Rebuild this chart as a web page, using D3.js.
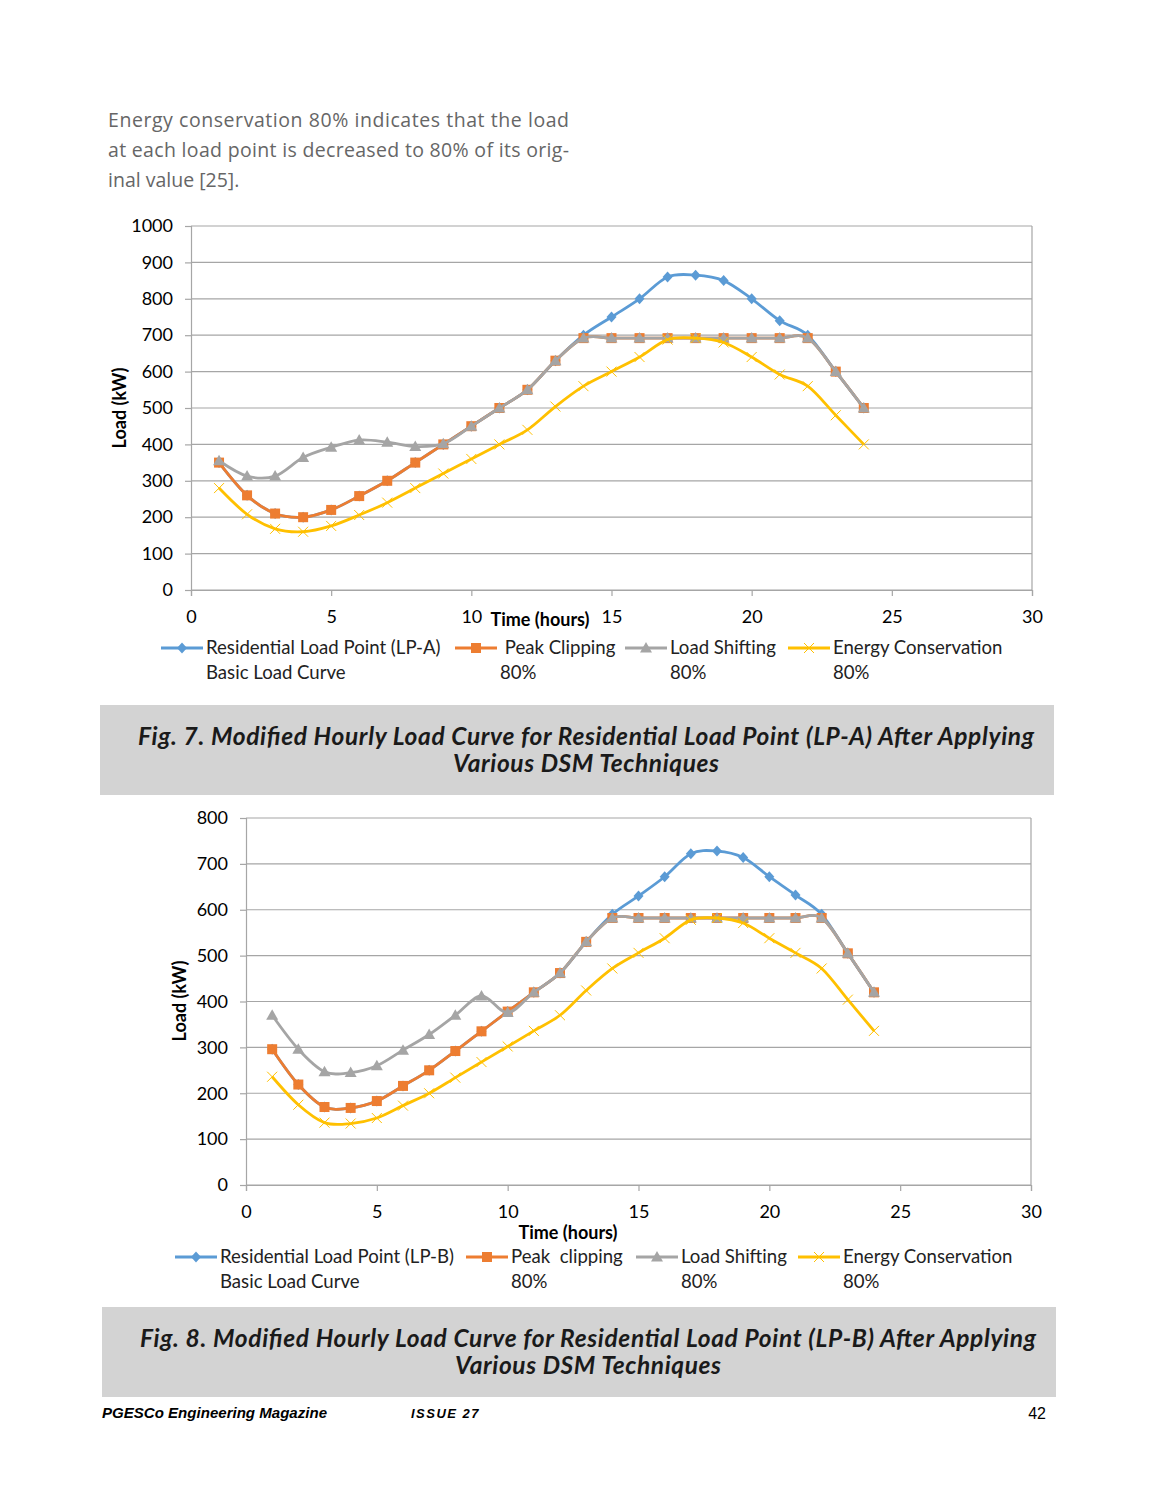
<!DOCTYPE html>
<html><head><meta charset="utf-8">
<script src="https://cdn.jsdelivr.net/npm/d3@7/dist/d3.min.js"></script>
<style>body{margin:0;background:#fff} svg{display:block}</style>
</head><body><svg id="page" width="1159" height="1500"></svg>
<script>
// ---------- data ----------
const hours = [1,2,3,4,5,6,7,8,9,10,11,12,13,14,15,16,17,18,19,20,21,22,23,24];
const xTicks = [0,5,10,15,20,25,30];

const yTicksA = [0,100,200,300,400,500,600,700,800,900,1000];
const lpaBasic  = [350,260,210,200,220,258,300,350,400,450,500,550,630,700,750,800,860,865,850,800,740,700,600,500];
const lpaPeak   = [350,260,210,200,220,258,300,350,400,450,500,550,630,692,692,692,692,692,692,692,692,692,600,500];
const lpaShift  = [355,313,313,364,392,412,406,394,402,450,500,550,630,692,692,692,692,692,692,692,692,692,600,500];
const lpaEnergy = [280,208,168,160,176,206,240,280,320,360,400,440,504,560,600,640,688,692,680,640,592,560,480,400];

const yTicksB = [0,100,200,300,400,500,600,700,800];
const lpbBasic  = [296,219,170,168,183,216,250,292,335,378,420,462,530,590,630,672,722,728,714,672,632,590,505,420];
const lpbPeak   = [296,219,170,168,183,216,250,292,335,378,420,462,530,582,582,582,582,582,582,582,582,582,505,420];
const lpbShift  = [370,296,247,245,260,294,328,370,412,376,420,462,530,582,582,582,582,582,582,582,582,582,505,420];
const lpbEnergy = [236,175,136,134,146,173,200,234,268,302,336,370,424,472,506,538,578,582,571,538,506,472,404,336];

const legendA = [["Residential Load Point (LP-A)","Basic Load Curve"],[" Peak Clipping","80%"],["Load Shifting","80%"],["Energy Conservation","80%"]];
const legendB = [["Residential Load Point (LP-B)","Basic Load Curve"],["Peak  clipping","80%"],["Load Shifting","80%"],["Energy Conservation","80%"]];

const paragraph = ["Energy conservation 80% indicates that the load","at each load point is decreased to 80% of its orig-","inal value [25]."];
const captionA = ["Fig. 7. Modified Hourly Load Curve for Residential Load Point (LP-A) After Applying","Various DSM Techniques"];
const captionB = ["Fig. 8. Modified Hourly Load Curve for Residential Load Point (LP-B) After Applying","Various DSM Techniques"];

// ---------- styles ----------
const colors = ["#5B9BD5","#ED7D31","#A5A5A5","#FFC000"];
const markers = ["diamond","square","triangle","x"];
const chartFont = "Lato, 'Open Sans', sans-serif";

const svg = d3.select("#page");
svg.append("rect").attr("width",1159).attr("height",1500).attr("fill","#fff");

// paragraph
const para = svg.append("g").attr("font-family","'Open Sans', 'Noto Sans', sans-serif").attr("font-size",19.5).attr("fill","#666");
paragraph.forEach((t,i)=>{
  const tx = para.append("text").attr("x",108).attr("y",127+i*30).text(t);
  if(i<2) tx.attr("textLength",461).attr("lengthAdjust","spacing");
});

function drawMarker(g, type, color, x, y){
  if(type==="diamond"){
    g.append("path").attr("d",`M${x},${y-5.5}L${x+5},${y}L${x},${y+5.5}L${x-5},${y}Z`).attr("fill",color);
  } else if(type==="square"){
    g.append("rect").attr("x",x-5).attr("y",y-5).attr("width",10).attr("height",10).attr("fill",color);
  } else if(type==="triangle"){
    g.append("path").attr("d",`M${x},${y-6}L${x+6},${y+4.5}L${x-6},${y+4.5}Z`).attr("fill",color);
  } else {
    g.append("path").attr("d",`M${x-5},${y-5}L${x+5},${y+5}M${x-5},${y+5}L${x+5},${y-5}`).attr("stroke",color).attr("stroke-width",1).attr("fill","none");
  }
}

function drawChart(cfg){
  const g = svg.append("g").attr("font-family",chartFont);
  const x = d3.scaleLinear().domain([0,30]).range([cfg.left,cfg.right]);
  const y = d3.scaleLinear().domain([0,cfg.yMax]).range([cfg.bottom,cfg.top]);

  // gridlines
  g.append("g").selectAll("line").data(cfg.yTicks).join("line")
    .attr("x1",cfg.left).attr("x2",cfg.right).attr("y1",d=>y(d)).attr("y2",d=>y(d))
    .attr("stroke","#a6a6a6").attr("stroke-width",1.2);
  // right border
  g.append("line").attr("x1",cfg.right).attr("x2",cfg.right).attr("y1",cfg.top).attr("y2",cfg.bottom).attr("stroke","#a6a6a6").attr("stroke-width",1.2);

  // y axis
  const yAx = g.append("g").attr("transform",`translate(${cfg.left},0)`)
    .call(d3.axisLeft(y).tickValues(cfg.yTicks).tickFormat(d3.format("d")).tickSize(6).tickPadding(12));
  yAx.select(".domain").attr("stroke","#a6a6a6").attr("stroke-width",1.2);
  yAx.selectAll(".tick line").attr("stroke","#a6a6a6").attr("stroke-width",1.2);
  yAx.selectAll("text").attr("font-size",18).attr("fill","#000").attr("font-family",chartFont);

  // x axis
  const xAx = g.append("g").attr("transform",`translate(0,${cfg.bottom})`)
    .call(d3.axisBottom(x).tickValues(xTicks).tickFormat(d3.format("d")).tickSize(6).tickPadding(cfg.xPad));
  xAx.select(".domain").attr("stroke","#a6a6a6").attr("stroke-width",1.2);
  xAx.selectAll(".tick line").attr("stroke","#a6a6a6").attr("stroke-width",1.2);
  xAx.selectAll("text").attr("font-size",18).attr("fill","#000").attr("font-family",chartFont);

  // axis titles
  g.append("text").attr("x",cfg.xTitle[0]).attr("y",cfg.xTitle[1]).attr("text-anchor","middle")
    .attr("font-weight","bold").attr("font-size",18).text("Time (hours)");
  g.append("text").attr("transform",`translate(${cfg.yTitle[0]},${cfg.yTitle[1]}) rotate(-90)`).attr("text-anchor","middle")
    .attr("font-weight","bold").attr("font-size",18).text("Load (kW)");

  // series
  const line = d3.line().x((d,i)=>x(hours[i])).y(d=>y(d)).curve(d3.curveCatmullRom.alpha(0));
  cfg.series.forEach((s,k)=>{
    const sg = g.append("g");
    sg.append("path").attr("d",line(s)).attr("fill","none").attr("stroke",colors[k]).attr("stroke-width",2.8);
    s.forEach((v,i)=>drawMarker(sg,markers[k],colors[k],x(hours[i]),y(v)));
  });

  // legend
  const lg = g.append("g").attr("font-size",18.6).attr("fill","#222");
  cfg.legend.forEach((lab,k)=>{
    const lx = cfg.legendX[k];
    lg.append("line").attr("x1",lx).attr("x2",lx+42).attr("y1",cfg.legendY).attr("y2",cfg.legendY).attr("stroke",colors[k]).attr("stroke-width",2.8);
    drawMarker(lg,markers[k],colors[k],lx+21,cfg.legendY);
    lg.append("text").attr("x",lx+45).attr("y",cfg.legendY+6).attr("xml:space","preserve").style("white-space","pre").text(lab[0]);
    lg.append("text").attr("x",lx+45).attr("y",cfg.legendY+31).text(lab[1]);
  });
}

drawChart({left:191,right:1032,top:226,bottom:590,yMax:1000,yTicks:yTicksA,xPad:14,
  xTitle:[540,626],yTitle:[126,408],
  series:[lpaBasic,lpaPeak,lpaShift,lpaEnergy],
  legend:legendA,legendX:[161,455,625,788],legendY:648});

drawChart({left:246,right:1031,top:818,bottom:1185,yMax:800,yTicks:yTicksB,xPad:14,
  xTitle:[568,1239],yTitle:[186,1001],
  series:[lpbBasic,lpbPeak,lpbShift,lpbEnergy],
  legend:legendB,legendX:[175,466,636,798],legendY:1257});

// caption boxes
function caption(bx,by,lines){
  svg.append("rect").attr("x",bx).attr("y",by).attr("width",954).attr("height",90).attr("fill","#d3d3d3");
  const cg = svg.append("g").attr("font-family","Lato, sans-serif").attr("font-weight","bold").attr("font-style","italic")
    .attr("font-size",24.5).attr("fill","#1a1a1a").attr("text-anchor","middle");
  lines.forEach((t,i)=>{
    const tx = cg.append("text").attr("x",bx+486).attr("y",by+40+i*27).text(t);
    if(i===0) tx.attr("textLength",896).attr("lengthAdjust","spacing");
    else tx.attr("textLength",266).attr("lengthAdjust","spacing");
  });
}
caption(100,705,captionA);
caption(102,1307,captionB);

// footer
const ft = svg.append("g").attr("font-family","'Liberation Sans', Arial, sans-serif").attr("font-size",15);
ft.append("text").attr("x",102).attr("y",1418).attr("font-weight","bold").attr("font-style","italic").attr("textLength",225).attr("lengthAdjust","spacingAndGlyphs").text("PGESCo Engineering Magazine");
ft.append("text").attr("x",411).attr("y",1418).attr("font-weight","bold").attr("font-style","italic").attr("font-size",13).attr("letter-spacing",1.5).text("ISSUE 27");
ft.append("text").attr("x",1046).attr("y",1419).attr("text-anchor","end").attr("font-size",16).text("42");
</script></body></html>
